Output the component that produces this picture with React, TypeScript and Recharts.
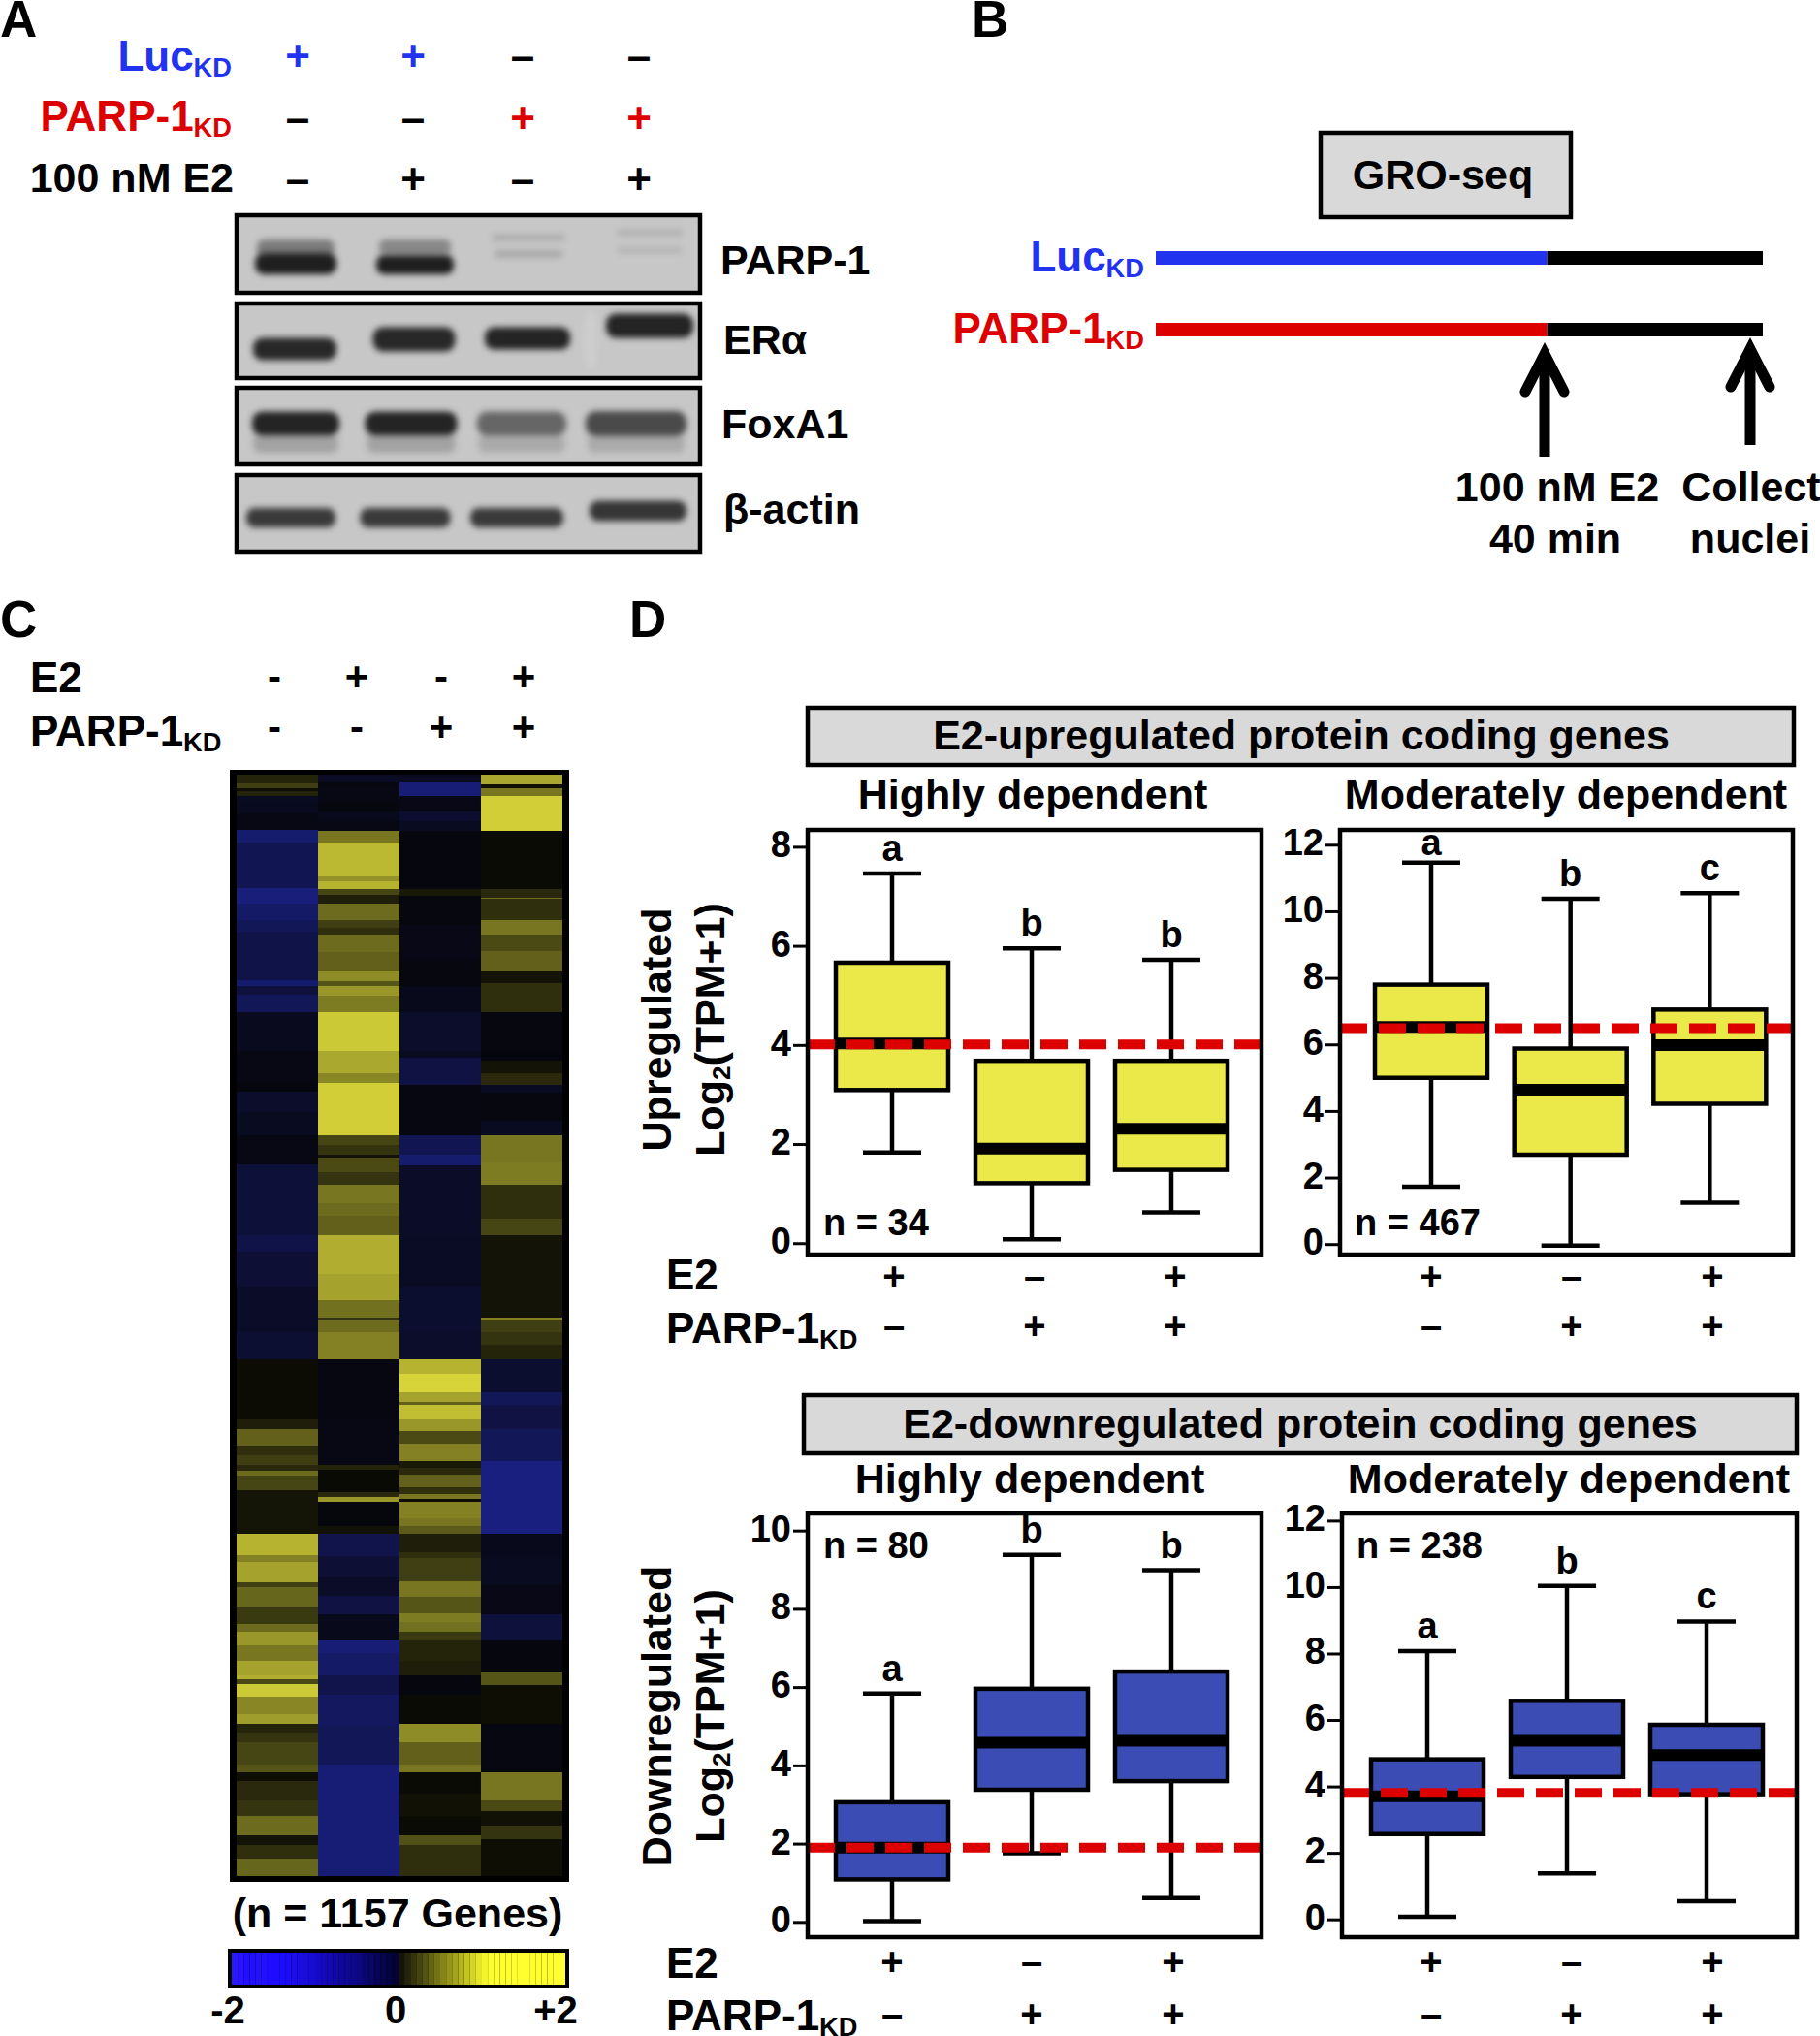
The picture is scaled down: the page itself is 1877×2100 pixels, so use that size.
import React from 'react'
import {
  BarChart, Bar, ComposedChart, Cell, ReferenceLine, Scatter, ScatterChart, XAxis, YAxis, ZAxis,
} from 'recharts'

const FONT = '"Liberation Sans", Arial, sans-serif'
const BLUE = '#2233f0'
const RED = '#dd0000'
const BOX_YELLOW = '#ebe84a'
const BOX_BLUE = '#3b4cb4'

// panel D, whisker low / q1 / median / q3 / whisker high
const groups = ['E2', 'KD', 'E2 KD']
type Stat = [number, number, number, number, number]
const upHighStats: Stat[] = [[1.84, 3.1, 4.04, 5.67, 7.47], [0.09, 1.22, 1.92, 3.69, 5.96], [0.63, 1.49, 2.32, 3.69, 5.73]]
const upModStats: Stat[] = [[1.74, 5.01, 6.54, 7.81, 11.48], [-0.03, 2.7, 4.65, 5.89, 10.39], [1.26, 4.23, 5.99, 7.06, 10.56]]
const downHighStats: Stat[] = [[0.03, 1.1, 1.91, 3.07, 5.85], [1.77, 3.39, 4.59, 5.97, 9.39], [0.62, 3.61, 4.64, 6.41, 9.0]]
const downModStats: Stat[] = [[0.09, 2.58, 3.72, 4.83, 8.09], [1.4, 4.3, 5.39, 6.59, 10.05], [0.56, 3.78, 4.96, 5.87, 8.98]]
const highLetters = ['a', 'b', 'b']
const modLetters = ['a', 'b', 'c']

// panel C, [last row of the block, log2 value], one list per lane
type Seg = [number, number]
const heatLane1: Seg[] = [
  [9, 0.25], [14, 0.5], [17, 0.05], [22, 0.25], [28, -0.3], [40, -0.25], [57, -0.1], [70, -1.4], [117, -1.0], [133, -1.6],
  [150, -1.3], [162, -1.1], [212, -0.85], [218, -1.4], [227, -0.7], [245, -1.1], [285, -0.25], [318, -0.12], [327, -0.03],
  [348, -0.45], [372, -0.3], [402, -0.12], [475, -0.65], [492, -0.85], [528, -0.6], [575, -0.4], [603, -0.55], [665, 0.04],
  [675, 0.2], [692, 0.8], [702, 0.35], [712, 0.5], [718, 0.3], [723, 0.9], [738, 0.55], [783, 0.12], [805, 1.55], [812, 1.1],
  [833, 1.4], [838, 0.5], [858, 0.85], [876, 0.45], [884, 0.9], [898, 1.3], [914, 1.0], [929, 1.4], [933, 1.5], [938, 0.6],
  [951, 1.75], [969, 1.15], [979, 1.35], [988, 0.25], [998, 0.4], [1021, 0.55], [1029, 0.7], [1038, 0.05], [1058, 0.3],
  [1074, 0.4], [1094, 0.9], [1104, 0.1], [1118, 0.35], [1136, 0.85],
]
const heatLane2: Seg[] = [
  [8, -0.35], [13, -0.08], [28, -0.1], [38, -0.05], [48, -0.2], [58, -0.1], [70, 1.0], [105, 1.6], [110, 1.25], [118, 1.55],
  [124, 0.55], [133, 0.2], [150, 0.9], [158, 0.5], [165, 0.35], [183, 0.9], [203, 0.8], [213, 1.2], [218, 0.7], [228, 1.3],
  [245, 1.05], [285, 1.75], [308, 1.45], [318, 1.15], [372, 1.8], [382, 0.55], [392, 0.4], [395, 0.1], [410, 0.6], [423, 0.4],
  [442, 1.0], [455, 0.9], [475, 0.8], [515, 1.5], [542, 1.4], [560, 0.95], [563, 0.4], [575, 0.9], [603, 1.1], [665, -0.08],
  [712, -0.1], [717, 0.25], [740, 0.02], [745, 0.3], [750, 1.3], [775, -0.02], [783, 0.08], [806, -0.9], [828, -0.6],
  [847, -0.4], [866, -0.8], [893, -0.2], [906, -1.5], [929, -1.3], [949, -0.9], [981, -1.2], [999, -1.1], [1021, -1.1], [1136, -1.5],
]
const heatLane3: Seg[] = [
  [8, -0.3], [22, -1.5], [38, -0.15], [48, -0.5], [58, -0.3], [118, -0.03], [125, 0.15], [155, -0.05], [192, -0.15], [218, -0.05],
  [245, -0.2], [285, -0.45], [292, -0.3], [320, -0.8], [372, -0.08], [392, -1.0], [403, -1.4], [475, -0.4], [528, -0.35],
  [575, -0.5], [603, -0.45], [618, 1.55], [637, 1.85], [647, 1.4], [650, 0.8], [665, 1.65], [677, 1.3], [690, 0.6], [708, 1.1],
  [715, 0.15], [722, 0.3], [735, 0.8], [742, 0.35], [747, 1.0], [750, 0.05], [767, 1.1], [775, 1.0], [783, 0.75], [802, 0.2],
  [808, 0.35], [832, 0.5], [848, 1.0], [865, 0.7], [874, 1.05], [884, 0.95], [893, 0.45], [914, 0.25], [929, 0.2], [949, -0.03],
  [979, 0.03], [998, 1.2], [1021, 0.8], [1029, 1.0], [1051, 0.03], [1074, 0.08], [1094, 0.03], [1104, 0.65], [1136, 0.35],
]
const heatLane4: Seg[] = [
  [10, 1.45], [14, 0.08], [22, 1.0], [58, 1.8], [118, 0.03], [127, 0.3], [128, 0.9], [150, 0.35], [165, 1.0], [182, 0.6],
  [203, 0.8], [215, 0.1], [245, 0.35], [285, -0.05], [295, -0.03], [308, 0.1], [320, 0.3], [328, -0.3], [357, -0.05], [372, -0.3],
  [400, 1.0], [423, 1.05], [458, 0.35], [475, 0.55], [498, 0.1], [560, 0.1], [563, 1.1], [575, 0.5], [588, 0.4], [603, 0.25],
  [637, -0.5], [650, -1.1], [675, -0.8], [708, -1.1], [783, -1.65], [808, -0.2], [835, -0.3], [866, -0.15], [893, -0.7],
  [926, -0.03], [939, 0.7], [979, 0.05], [1029, -0.08], [1058, 1.0], [1069, 0.6], [1084, 0.08], [1098, 0.4], [1136, 0.05],
]
const heatLanes = [heatLane1, heatLane2, heatLane3, heatLane4]
const e2Signs = ['-', '+', '-', '+']
const kdSigns = ['-', '-', '+', '+']

const legendFills = [
  '#2a18ff', '#2814ff', '#2010ff', '#2010ff', '#2412f8', '#2212fc', '#1e0cff', '#1e0cff', '#1c0cff', '#1c0cf8', '#1c0cf0', '#1b0ce6', '#1a0cdc', '#180bd2',
  '#160ac8', '#1509be', '#1408b4', '#1208a8', '#10089c', '#0f0892', '#0e0888', '#0c077c', '#0a0670', '#090664', '#080558', '#07054c', '#060440', '#050334',
  '#14140a', '#24240c', '#34340e', '#444410', '#545412', '#646414', '#747416', '#848418', '#94941a', '#a4a41c', '#b4b41e', '#c4c420', '#d4d424', '#e4e428', '#f4f42c', '#fcfc2e',
  '#ffff30', '#ffff30', '#ffff30', '#ffff30', '#ffff30', '#ffff30', '#ffff30', '#ffff30', '#ffff30', '#ffff30', '#ffff30', '#ffff30',
]

// panel A, one band per row: lane position, height in the blot, width, thickness, density
type Band = { x: number; y: number; w: number; h: number; d: number }
const parpBands: Band[] = [
  { x: 63, y: 36, w: 80, h: 18, d: 0.42 }, { x: 186, y: 35, w: 74, h: 16, d: 0.36 },
  { x: 63, y: 52, w: 84, h: 22, d: 0.95 }, { x: 186, y: 53, w: 80, h: 20, d: 0.95 },
  { x: 303, y: 25, w: 75, h: 7, d: 0.14 }, { x: 303, y: 42, w: 70, h: 7, d: 0.18 },
  { x: 428, y: 20, w: 68, h: 7, d: 0.12 }, { x: 428, y: 38, w: 66, h: 6, d: 0.12 },
]
const eraBands: Band[] = [
  { x: 367, y: 40, w: 14, h: 60, d: -0.25 },
  { x: 62, y: 49, w: 86, h: 23, d: 0.9 }, { x: 185, y: 39, w: 85, h: 25, d: 0.9 },
  { x: 302, y: 38, w: 88, h: 23, d: 0.92 }, { x: 428, y: 25, w: 90, h: 25, d: 0.92 },
]
const foxBands: Band[] = [
  { x: 63, y: 60, w: 88, h: 18, d: 0.2 }, { x: 182, y: 60, w: 92, h: 18, d: 0.2 },
  { x: 296, y: 60, w: 90, h: 18, d: 0.16 }, { x: 414, y: 60, w: 100, h: 18, d: 0.16 },
  { x: 63, y: 39, w: 90, h: 25, d: 0.92 }, { x: 182, y: 39, w: 95, h: 25, d: 0.92 },
  { x: 296, y: 39, w: 92, h: 25, d: 0.55 }, { x: 414, y: 39, w: 104, h: 26, d: 0.7 },
]
const actinBands: Band[] = [
  { x: 58, y: 46, w: 92, h: 20, d: 0.8 }, { x: 176, y: 46, w: 93, h: 20, d: 0.8 },
  { x: 291, y: 46, w: 96, h: 20, d: 0.8 }, { x: 416, y: 39, w: 100, h: 21, d: 0.82 },
]

// panel B, stacked treatment time
const timeline = [
  { arm: 'Luc', knockdown: 682, treated: 376 },
  { arm: 'PARP-1', knockdown: 682, treated: 376 },
]

function heatColor(v: number) {
  const t = Math.min(Math.abs(v) / 2, 1)
  const mix = (a: number, b: number) => Math.round(a + (b - a) * t)
  if (v >= 0) return `rgb(${mix(8, 232)},${mix(8, 228)},${mix(4, 62)})`
  return `rgb(${mix(6, 28)},${mix(6, 36)},${mix(12, 150)})`
}

function heatRows() {
  return heatLanes.map((lane, c) => {
    const row: Record<string, number | string> = { lane: `c${c}` }
    let prev = 0
    lane.forEach(([end], i) => {
      row[`s${i}`] = end - prev
      prev = end
    })
    return row
  })
}

function Heatmap() {
  const rows = heatRows()
  const n = Math.max(...heatLanes.map(l => l.length))
  return (
    <div style={{ position: 'absolute', left: 244, top: 799, filter: 'blur(0.7px)' }}>
      <BarChart width={336} height={1136} data={rows} barCategoryGap={0} margin={{ top: 0, right: 0, bottom: 0, left: 0 }}>
        <XAxis dataKey="lane" hide />
        <YAxis hide reversed type="number" domain={[0, 1136]} />
        {Array.from({ length: n }).map((_, i) => (
          <Bar key={i} dataKey={`s${i}`} stackId="h" isAnimationActive={false}>
            {heatLanes.map((lane, c) => (
              <Cell key={c} fill={lane[i] ? heatColor(lane[i][1]) : '#000'} />
            ))}
          </Bar>
        ))}
      </BarChart>
    </div>
  )
}

function HeatLegend() {
  const row: Record<string, number | string> = { name: 'scale' }
  legendFills.forEach((_, i) => { row[`k${i}`] = 1 })
  return (
    <div style={{ position: 'absolute', left: 239, top: 2014 }}>
      <BarChart width={344} height={33} layout="vertical" data={[row]} barCategoryGap={0} margin={{ top: 0, right: 0, bottom: 0, left: 0 }}>
        <XAxis hide type="number" domain={[0, legendFills.length]} />
        <YAxis hide type="category" dataKey="name" />
        {legendFills.map((f, i) => (
          <Bar key={i} dataKey={`k${i}`} stackId="k" fill={f} isAnimationActive={false} />
        ))}
      </BarChart>
    </div>
  )
}

function BandShape(props: any) {
  const { cx, cy, payload } = props
  const { w, h, d } = payload as Band
  return (
    <rect
      x={cx - w / 2} y={cy - h / 2} width={w} height={h} rx={h / 2.4}
      fill={d < 0 ? '#e4e4e4' : '#161616'} fillOpacity={Math.abs(d)}
      style={{ filter: 'blur(3px)' }}
    />
  )
}

function Blot({ top, height, bands }: { top: number; height: number; bands: Band[] }) {
  return (
    <div style={{ position: 'absolute', left: 242, top, background: '#c7c7c7' }}>
      <ScatterChart width={482} height={height} margin={{ top: 0, right: 0, bottom: 0, left: 0 }}>
        <XAxis hide type="number" dataKey="x" domain={[0, 482]} />
        <YAxis hide reversed type="number" dataKey="y" domain={[0, height]} />
        <ZAxis range={[10, 10]} />
        <Scatter data={bands} shape={BandShape} isAnimationActive={false} />
      </ScatterChart>
    </div>
  )
}

function Timeline() {
  return (
    <div style={{ position: 'absolute', left: 1192, top: 229 }}>
      <BarChart width={626} height={148} layout="vertical" data={timeline} margin={{ top: 0, right: 0, bottom: 0, left: 0 }}>
        <XAxis hide type="number" domain={[0, 1058]} />
        <YAxis hide type="category" dataKey="arm" />
        <Bar dataKey="knockdown" stackId="t" barSize={14} isAnimationActive={false}>
          <Cell fill={BLUE} />
          <Cell fill={RED} />
        </Bar>
        <Bar dataKey="treated" stackId="t" barSize={14} fill="#000" isAnimationActive={false} />
      </BarChart>
    </div>
  )
}

function BoxShape(props: any) {
  const { x, y, width, height, payload, fill } = props
  const { lo, q1, med, q3, hi, letter } = payload
  const unit = Math.abs(height) / (q3 - q1)
  const top = Math.min(y, y + height)
  const at = (v: number) => top + (q3 - v) * unit
  const cx = x + width / 2
  return (
    <g>
      <line x1={cx} x2={cx} y1={at(hi)} y2={at(lo)} stroke="#000" strokeWidth={4.5} />
      <line x1={cx - 30} x2={cx + 30} y1={at(hi)} y2={at(hi)} stroke="#000" strokeWidth={4.5} />
      <line x1={cx - 30} x2={cx + 30} y1={at(lo)} y2={at(lo)} stroke="#000" strokeWidth={4.5} />
      <rect x={x} y={top} width={width} height={Math.abs(height)} fill={fill} stroke="#000" strokeWidth={4.5} />
      <line x1={x} x2={x + width} y1={at(med)} y2={at(med)} stroke="#000" strokeWidth={12} />
      {/* letters stay inside the frame when the whisker runs close to the top */}
      <text x={cx} y={Math.max(at(hi) - 13, 66)} textAnchor="middle" fontFamily={FONT} fontWeight={700} fontSize={38} fill="#000">{letter}</text>
    </g>
  )
}

type BoxProps = {
  left: number; top: number; width: number; height: number; stats: Stat[]; letters: string[]
  domain: [number, number]; ticks: number[]; refY: number; fill: string; pad: { left: number; right: number }
}

function BoxPanel({ left, top, width, height, stats, letters, domain, ticks, refY, fill, pad }: BoxProps) {
  const yw = 90
  const gap = 40
  const data = stats.map(([lo, q1, med, q3, hi], i) => ({ group: groups[i], lo, q1, med, q3, hi, letter: letters[i] }))
  return (
    <div style={{ position: 'absolute', left: left - yw, top: top - gap }}>
      <ComposedChart width={width + yw} height={height + gap * 2} data={data} margin={{ top: gap, right: 0, bottom: gap, left: 0 }}>
        <XAxis dataKey="group" hide padding={pad} />
        <YAxis
          width={yw} type="number" domain={domain} ticks={ticks} interval={0} allowDataOverflow
          axisLine={false} tickSize={15} tickMargin={2}
          tickLine={{ stroke: '#000', strokeWidth: 3 }}
          tick={{ fontSize: 38, fontWeight: 700, fontFamily: FONT, fill: '#000', dy: -3 }}
        />
        <Bar dataKey={(d: any) => [d.q1, d.q3]} barSize={116} fill={fill} shape={BoxShape} isAnimationActive={false} />
        <ReferenceLine y={refY} stroke={RED} strokeWidth={10} strokeDasharray="28 12" />
      </ComposedChart>
    </div>
  )
}

function T({ x, y, size = 43, fill = '#000', anchor = 'start', rotate, sub, children }: any) {
  return (
    <text
      x={x} y={y} fontSize={size} fill={fill} textAnchor={anchor}
      fontFamily={FONT} fontWeight={700}
      transform={rotate ? `rotate(${rotate} ${x} ${y})` : undefined}
    >
      {children}
      {sub ? <tspan fontSize={size * 0.62} dy={size * 0.14}>{sub}</tspan> : null}
    </text>
  )
}

function Signs({ xs, y, signs, size = 40, fills }: any) {
  return (
    <>
      {signs.map((s: string, i: number) => (
        <text key={i} x={xs[i]} y={y} fontSize={size} fontFamily={FONT} fontWeight={700} textAnchor="middle"
          fill={fills ? fills[i] : '#000'} dominantBaseline="central">{s}</text>
      ))}
    </>
  )
}

function Frame({ x, y, w, h, fill = 'none', sw = 4.5 }: any) {
  return <rect x={x} y={y} width={w} height={h} fill={fill} stroke="#000" strokeWidth={sw} />
}

function Arrow({ x, tip, base }: { x: number; tip: number; base: number }) {
  return (
    <g stroke="#000" fill="none" strokeLinecap="round">
      <line x1={x} x2={x} y1={tip + 6} y2={base} strokeWidth={11} strokeLinecap="butt" />
      <path d={`M${x - 20} ${tip + 44} L${x} ${tip + 5} L${x + 20} ${tip + 44}`} strokeWidth={11} />
    </g>
  )
}

export default function App() {
  return (
    <div style={{ position: 'absolute', left: 0, top: 0, width: 1877, height: 2100, background: '#fff', overflow: 'hidden' }}>
      <Blot top={220} height={84} bands={parpBands} />
      <Blot top={311} height={81} bands={eraBands} />
      <Blot top={398} height={83} bands={foxBands} />
      <Blot top={488} height={83} bands={actinBands} />
      <Timeline />

      <div style={{ position: 'absolute', left: 237, top: 794, width: 350, height: 1147, background: '#000' }} />
      <Heatmap />
      <div style={{ position: 'absolute', left: 235, top: 2010, width: 352, height: 41, background: '#000' }} />
      <HeatLegend />

      <BoxPanel left={833} top={856} width={468} height={438} stats={upHighStats} letters={highLetters}
        domain={[-0.22, 8.35]} ticks={[0, 2, 4, 6, 8]} refY={4.02} fill={BOX_YELLOW} pad={{ left: 15, right: 21 }} />
      <BoxPanel left={1382} top={856} width={467} height={438} stats={upModStats} letters={modLetters}
        domain={[-0.3, 12.46]} ticks={[0, 2, 4, 6, 8, 10, 12]} refY={6.5} fill={BOX_YELLOW} pad={{ left: 22, right: 14 }} />
      <BoxPanel left={833} top={1561} width={468} height={437} stats={downHighStats} letters={highLetters}
        domain={[-0.376, 10.45]} ticks={[0, 2, 4, 6, 8, 10]} refY={1.91} fill={BOX_BLUE} pad={{ left: 15, right: 21 }} />
      <BoxPanel left={1384} top={1561} width={469} height={437} stats={downModStats} letters={modLetters}
        domain={[-0.52, 12.23]} ticks={[0, 2, 4, 6, 8, 10, 12]} refY={3.82} fill={BOX_BLUE} pad={{ left: 16, right: 21 }} />

      <svg width={1877} height={2100} style={{ position: 'absolute', left: 0, top: 0, pointerEvents: 'none' }}>
        {/* panel letters */}
        <T x={0} y={38} size={53}>A</T>
        <T x={1002} y={38} size={53}>B</T>
        <T x={0} y={657} size={53}>C</T>
        <T x={649} y={657} size={53}>D</T>

        {/* A */}
        <T x={239} y={73} size={44} fill={BLUE} anchor="end" sub="KD">Luc</T>
        <T x={239} y={135} size={44} fill={RED} anchor="end" sub="KD">PARP-1</T>
        <T x={241} y={198} size={43} anchor="end">100 nM E2</T>
        <Signs xs={[307, 426, 539, 659]} y={57} size={44} signs={['+', '+', '–', '–']} fills={[BLUE, BLUE, '#000', '#000']} />
        <Signs xs={[307, 426, 539, 659]} y={121} size={44} signs={['–', '–', '+', '+']} fills={['#000', '#000', RED, RED]} />
        <Signs xs={[307, 426, 539, 659]} y={184} size={44} signs={['–', '+', '–', '+']} />
        <Frame x={244} y={222} w={478} h={80} />
        <Frame x={244} y={313} w={478} h={77} />
        <Frame x={244} y={400} w={478} h={79} />
        <Frame x={244} y={490} w={478} h={79} />
        <T x={743} y={283}>PARP-1</T>
        <T x={746} y={365}>ERα</T>
        <T x={744} y={452}>FoxA1</T>
        <T x={746} y={540}>β-actin</T>

        {/* B */}
        <Frame x={1362} y={137} w={258} h={87} fill="#d9d9d9" />
        <T x={1488} y={195} anchor="middle">GRO-seq</T>
        <T x={1180} y={280} size={44} fill={BLUE} anchor="end" sub="KD">Luc</T>
        <T x={1180} y={354} size={44} fill={RED} anchor="end" sub="KD">PARP-1</T>
        <Arrow x={1593} tip={360} base={471} />
        <Arrow x={1805} tip={355} base={459} />
        <T x={1606} y={517} anchor="middle">100 nM E2</T>
        <T x={1604} y={570} anchor="middle">40 min</T>
        <T x={1806} y={517} anchor="middle">Collect</T>
        <T x={1805} y={570} anchor="middle">nuclei</T>

        {/* C */}
        <T x={31} y={714} size={44}>E2</T>
        <T x={31} y={769} size={44} sub="KD">PARP-1</T>
        <Signs xs={[283, 368, 455, 540]} y={697} size={42} signs={e2Signs} />
        <Signs xs={[283, 368, 455, 540]} y={749} size={42} signs={kdSigns} />
        <T x={410} y={1988} anchor="middle">(n = 1157 Genes)</T>
        <T x={235} y={2087} size={40} anchor="middle">-2</T>
        <T x={408} y={2087} size={40} anchor="middle">0</T>
        <T x={573} y={2087} size={40} anchor="middle">+2</T>

        {/* D top */}
        <Frame x={833} y={730} w={1017} h={59} fill="#d9d9d9" />
        <T x={1342} y={773} anchor="middle">E2-upregulated protein coding genes</T>
        <T x={1065} y={834} anchor="middle">Highly dependent</T>
        <T x={1615} y={834} anchor="middle">Moderately dependent</T>
        <Frame x={833} y={856} w={468} h={438} />
        <Frame x={1382} y={856} w={467} h={438} />
        <T x={849} y={1274} size={38}>n = 34</T>
        <T x={1397} y={1274} size={38}>n = 467</T>
        <T x={692} y={1062} anchor="middle" rotate={-90}>Upregulated</T>
        <T x={747} y={1062} anchor="middle" rotate={-90}>Log<tspan fontSize={26} dy={6}>2</tspan><tspan dy={-6}>(TPM+1)</tspan></T>
        <T x={687} y={1330} size={44}>E2</T>
        <T x={687} y={1385} size={44} sub="KD">PARP-1</T>
        <Signs xs={[922, 1067, 1212, 1476, 1621, 1766]} y={1316} signs={['+', '–', '+', '+', '–', '+']} />
        <Signs xs={[922, 1067, 1212, 1476, 1621, 1766]} y={1367} signs={['–', '+', '+', '–', '+', '+']} />

        {/* D bottom */}
        <Frame x={829} y={1439} w={1024} h={60} fill="#d9d9d9" />
        <T x={1341} y={1483} anchor="middle">E2-downregulated protein coding genes</T>
        <T x={1062} y={1540} anchor="middle">Highly dependent</T>
        <T x={1618} y={1540} anchor="middle">Moderately dependent</T>
        <Frame x={833} y={1561} w={468} h={437} />
        <Frame x={1384} y={1561} w={469} h={437} />
        <T x={849} y={1607} size={38}>n = 80</T>
        <T x={1399} y={1607} size={38}>n = 238</T>
        <T x={692} y={1770} anchor="middle" rotate={-90}>Downregulated</T>
        <T x={747} y={1770} anchor="middle" rotate={-90}>Log<tspan fontSize={26} dy={6}>2</tspan><tspan dy={-6}>(TPM+1)</tspan></T>
        <T x={687} y={2040} size={44}>E2</T>
        <T x={687} y={2094} size={44} sub="KD">PARP-1</T>
        <Signs xs={[920, 1064, 1210, 1476, 1621, 1766]} y={2023} signs={['+', '–', '+', '+', '–', '+']} />
        <Signs xs={[920, 1064, 1210, 1476, 1621, 1766]} y={2077} signs={['–', '+', '+', '–', '+', '+']} />
      </svg>
    </div>
  )
}
